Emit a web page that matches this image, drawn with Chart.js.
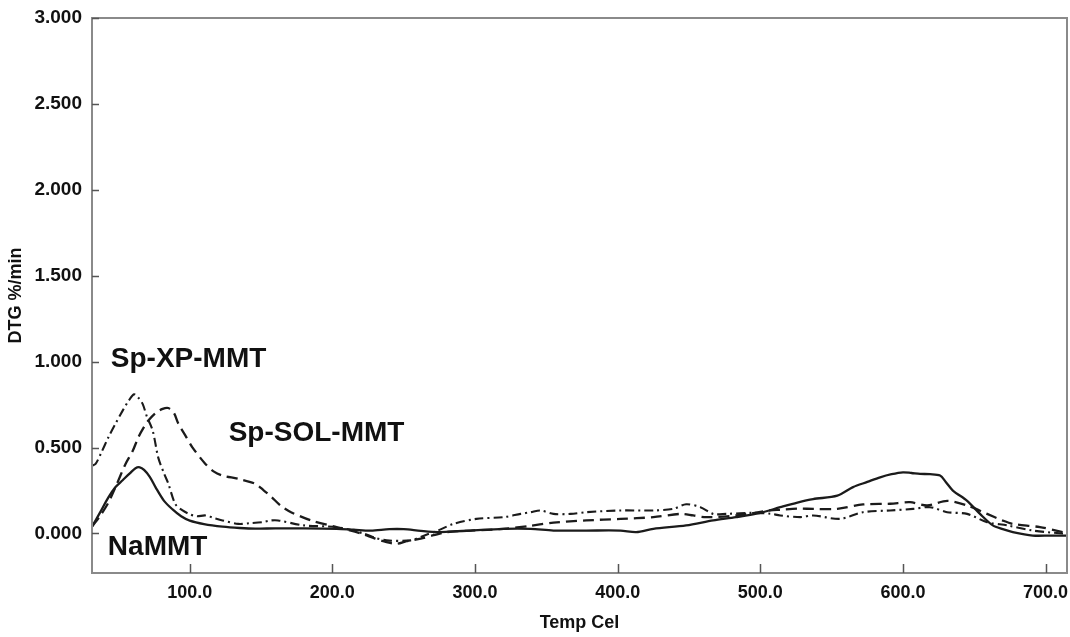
<!DOCTYPE html>
<html>
<head>
<meta charset="utf-8">
<script src="https://cdn.jsdelivr.net/npm/chart.js@4/dist/chart.umd.min.js"></script>
<style>
  html, body { margin: 0; padding: 0; background: #ffffff; }
  #wrap { width: 1070px; height: 637px; position: relative; }
</style>
</head>
<body>
<div id="wrap"><canvas id="c" width="1070" height="637"></canvas></div>
<script>
// ---- Data (Temp in °C, DTG in %/min) ----
const naTemp = [31.5, 37, 43, 48, 53, 58, 62, 65, 68, 72, 76, 82, 88, 94, 100, 110, 123, 135, 146, 160, 180, 203, 215, 227, 240, 250, 262, 274, 285, 297, 320, 339, 355, 378, 402, 413, 425, 448, 467, 483, 500, 514, 526, 537, 554, 565, 575, 584, 592, 600, 606, 612, 619, 626, 630, 635, 645, 654, 663, 670, 677, 691, 703, 715];
const naDTG  = [0.04, 0.12, 0.21, 0.27, 0.31, 0.35, 0.38, 0.385, 0.37, 0.33, 0.27, 0.19, 0.14, 0.10, 0.075, 0.055, 0.04, 0.032, 0.028, 0.03, 0.03, 0.027, 0.022, 0.017, 0.025, 0.025, 0.015, 0.008, 0.012, 0.017, 0.027, 0.027, 0.017, 0.017, 0.017, 0.008, 0.027, 0.047, 0.076, 0.095, 0.12, 0.153, 0.18, 0.20, 0.22, 0.27, 0.30, 0.327, 0.345, 0.356, 0.352, 0.347, 0.345, 0.337, 0.30, 0.25, 0.19, 0.114, 0.047, 0.025, 0.008, -0.012, -0.012, -0.012];

const solTemp = [31.5, 37, 43, 48, 55, 60, 64, 68, 71, 76, 81, 85, 89, 92, 97, 102, 111, 117, 123, 134, 146, 152, 157, 164, 171, 185, 203, 220, 230, 238, 245, 252, 262, 271, 280, 297, 320, 339, 355, 378, 402, 425, 444, 453, 462, 483, 507, 514, 526, 537, 554, 572, 591, 605, 617, 631, 645, 659, 670, 677, 696, 712, 715];
const solDTG  = [0.04, 0.10, 0.18, 0.27, 0.405, 0.48, 0.56, 0.62, 0.657, 0.70, 0.725, 0.73, 0.70, 0.64, 0.57, 0.50, 0.405, 0.36, 0.337, 0.318, 0.289, 0.25, 0.215, 0.16, 0.124, 0.076, 0.037, 0.0, -0.03, -0.05, -0.06, -0.045, -0.03, -0.01, 0.008, 0.017, 0.027, 0.045, 0.063, 0.076, 0.085, 0.095, 0.114, 0.105, 0.095, 0.105, 0.134, 0.138, 0.145, 0.143, 0.143, 0.169, 0.173, 0.182, 0.163, 0.19, 0.163, 0.114, 0.075, 0.056, 0.037, 0.008, 0.0];

const xpTemp = [31.5, 34, 38, 43, 48, 53, 57, 61, 64, 67, 70, 74, 78, 82, 85, 90, 95, 100, 105, 111, 117, 123, 134, 142, 151, 157, 162, 180, 203, 222, 230, 238, 255, 265, 274, 285, 301, 320, 332, 339, 346, 355, 367, 378, 402, 425, 439, 448, 458, 467, 476, 495, 507, 514, 528, 537, 556, 572, 591, 607, 619, 631, 645, 659, 673, 691, 712, 715];
const xpDTG  = [0.395, 0.405, 0.47, 0.56, 0.64, 0.715, 0.77, 0.81, 0.79, 0.754, 0.68, 0.60, 0.44, 0.35, 0.29, 0.17, 0.134, 0.112, 0.10, 0.105, 0.09, 0.076, 0.056, 0.06, 0.066, 0.076, 0.076, 0.047, 0.037, 0.0, -0.025, -0.04, -0.04, -0.01, 0.017, 0.056, 0.085, 0.095, 0.114, 0.124, 0.134, 0.114, 0.114, 0.124, 0.134, 0.134, 0.143, 0.17, 0.153, 0.114, 0.114, 0.12, 0.115, 0.105, 0.095, 0.105, 0.085, 0.124, 0.134, 0.143, 0.153, 0.124, 0.114, 0.066, 0.047, 0.017, 0.0, 0.0];

const seriesNames = ['NaMMT', 'Sp-SOL-MMT', 'Sp-XP-MMT'];
const xTickValues = [100, 200, 300, 400, 500, 600, 700];
const yTickValues = [0, 0.5, 1.0, 1.5, 2.0, 2.5, 3.0];
const xTitle = 'Temp Cel';
const yTitle = 'DTG %/min';
// Curve labels: text with anchor (left/baseline) in data units
const labelTexts = ['Sp-XP-MMT', 'Sp-SOL-MMT', 'NaMMT'];
const labelTemps = [44.7, 127.3, 42.6];
const labelDTGs  = [0.971, 0.541, -0.128];

function pts(xs, ys) { return xs.map((x, i) => ({ x: x, y: ys[i] })); }

const FONT = '"Liberation Sans", Arial, sans-serif';
const LINE = '#1b1b1b';

const framePlugin = {
  id: 'frame',
  afterDatasetsDraw(chart) {
    const { ctx, chartArea: a, scales } = chart;
    ctx.save();
    ctx.strokeStyle = '#8a8a8a';
    ctx.lineWidth = 2;
    ctx.strokeRect(a.left, a.top, a.right - a.left, a.bottom - a.top);
    ctx.strokeStyle = '#555';
    ctx.lineWidth = 1.5;
    ctx.beginPath();
    xTickValues.forEach(v => {
      const px = Math.round(scales.x.getPixelForValue(v)) + 0.5;
      ctx.moveTo(px, a.bottom);
      ctx.lineTo(px, a.bottom - 9);
    });
    yTickValues.forEach(v => {
      const py = Math.round(scales.y.getPixelForValue(v)) + 0.5;
      ctx.moveTo(a.left, py);
      ctx.lineTo(a.left + 7, py);
    });
    ctx.stroke();
    ctx.fillStyle = '#111';
    ctx.font = 'bold 28px ' + FONT;
    ctx.textAlign = 'left';
    ctx.textBaseline = 'alphabetic';
    labelTexts.forEach((t, i) => {
      ctx.fillText(t, scales.x.getPixelForValue(labelTemps[i]), scales.y.getPixelForValue(labelDTGs[i]));
    });
    ctx.restore();
  }
};

new Chart(document.getElementById('c'), {
  type: 'line',
  data: {
    datasets: [
      { label: seriesNames[0], data: pts(naTemp, naDTG), borderColor: LINE, borderWidth: 2.3, pointRadius: 0, tension: 0.3, fill: false },
      { label: seriesNames[1], data: pts(solTemp, solDTG), borderColor: LINE, borderWidth: 2.3, borderDash: [11, 6], pointRadius: 0, tension: 0.3, fill: false },
      { label: seriesNames[2], data: pts(xpTemp, xpDTG), borderColor: LINE, borderWidth: 2.1, borderDash: [9, 4, 2, 4], pointRadius: 0, tension: 0.3, fill: false }
    ]
  },
  options: {
    responsive: false,
    animation: false,
    events: [],
    layout: { padding: { top: 18, right: 3, left: 0, bottom: 0 } },
    plugins: { legend: { display: false }, tooltip: { enabled: false } },
    scales: {
      x: {
        type: 'linear',
        min: 31.5,
        max: 715,
        border: { display: false },
        grid: { display: false, drawTicks: false },
        afterFit(s) { s.height = 64; s.paddingRight = 0; s.paddingLeft = 0; },
        afterBuildTicks(s) { s.ticks = xTickValues.map(v => ({ value: v })); },
        ticks: {
          padding: 9,
          color: '#111',
          font: { family: FONT, size: 18, weight: 'bold' },
          callback: v => Number(v).toFixed(1),
          maxRotation: 0,
          autoSkip: false
        },
        title: {
          display: true,
          text: xTitle,
          color: '#111',
          font: { family: FONT, size: 18, weight: 'bold' },
          padding: { top: 0, bottom: 3 }
        }
      },
      y: {
        type: 'linear',
        min: -0.23,
        max: 3.0,
        border: { display: false },
        grid: { display: false, drawTicks: false },
        afterFit(s) { s.width = 92; s.paddingTop = 0; s.paddingBottom = 0; },
        afterBuildTicks(s) { s.ticks = yTickValues.map(v => ({ value: v })); },
        ticks: {
          padding: 10,
          color: '#111',
          font: { family: FONT, size: 19, weight: 'bold' },
          callback: v => Number(v).toFixed(3)
        },
        title: {
          display: true,
          text: yTitle,
          color: '#111',
          font: { family: FONT, size: 18, weight: 'bold' },
          padding: { top: 5, bottom: 0 }
        }
      }
    }
  },
  plugins: [framePlugin]
});
</script>
</body>
</html>
